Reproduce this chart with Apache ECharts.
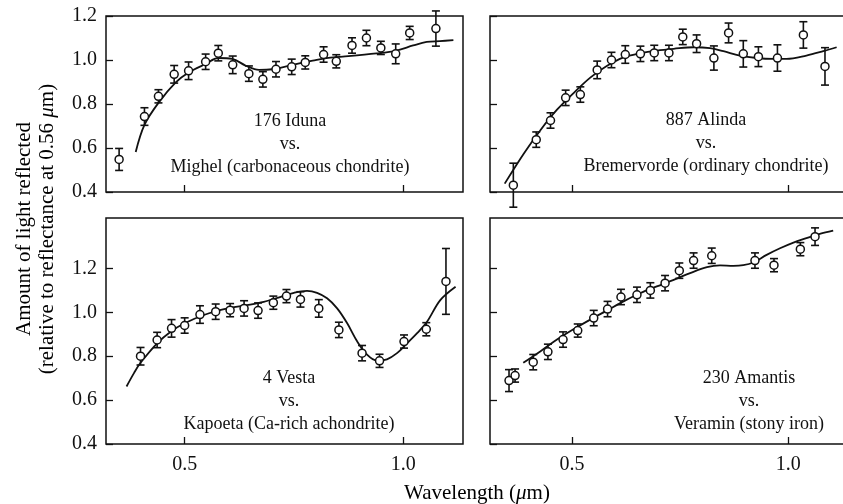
<!DOCTYPE html>
<html>
<head>
<meta charset="utf-8">
<script src="https://cdn.jsdelivr.net/npm/echarts@6/dist/echarts.min.js"></script>
<style>
html,body{margin:0;padding:0;background:#fff;}
#main{width:843px;height:504px;}
</style>
</head>
<body>
<div id="main"></div>
<script>
//测量点 [波长, 反射率, 误差]
var idunaPts=[[0.350,0.548,0.05],[0.408,0.743,0.04],[0.440,0.835,0.03],[0.476,0.935,0.04],[0.509,0.951,0.04],[0.548,0.992,0.035],[0.577,1.031,0.035],[0.610,0.978,0.04],[0.647,0.938,0.035],[0.679,0.912,0.035],[0.709,0.958,0.035],[0.745,0.969,0.035],[0.776,0.989,0.03],[0.818,1.025,0.035],[0.847,0.994,0.03],[0.883,1.066,0.035],[0.916,1.100,0.035],[0.949,1.055,0.03],[0.983,1.028,0.045],[1.015,1.123,0.03],[1.075,1.143,0.08]];
//陨石曲线 [波长, 反射率]
var idunaFit=[[0.388,0.582],[0.408,0.705],[0.44,0.805],[0.479,0.897],[0.509,0.943],[0.548,0.982],[0.577,1.009],[0.609,1.005],[0.64,0.974],[0.67,0.955],[0.70,0.958],[0.747,0.978],[0.793,0.997],[0.824,1.009],[0.862,1.015],[0.939,1.03],[0.985,1.043],[1.023,1.066],[1.054,1.082],[1.084,1.086],[1.115,1.09]];

var alindaPts=[[0.364,0.431,0.1],[0.417,0.638,0.035],[0.450,0.725,0.035],[0.485,0.828,0.035],[0.519,0.843,0.035],[0.558,0.955,0.04],[0.591,1.0,0.035],[0.623,1.025,0.04],[0.658,1.028,0.035],[0.690,1.032,0.035],[0.724,1.032,0.035],[0.756,1.105,0.035],[0.788,1.074,0.04],[0.828,1.009,0.055],[0.862,1.123,0.045],[0.896,1.028,0.06],[0.931,1.015,0.045],[0.975,1.009,0.06],[1.035,1.114,0.06],[1.085,0.971,0.085]];
var alindaFit=[[0.344,0.438],[0.388,0.574],[0.427,0.682],[0.465,0.774],[0.504,0.851],[0.542,0.92],[0.581,0.974],[0.619,1.012],[0.658,1.031],[0.696,1.043],[0.735,1.051],[0.781,1.058],[0.819,1.054],[0.85,1.04],[0.888,1.02],[0.927,1.009],[0.965,1.005],[0.996,1.005],[1.042,1.02],[1.081,1.04],[1.112,1.058]];

var vestaPts=[[0.399,0.80,0.04],[0.437,0.874,0.035],[0.470,0.927,0.04],[0.500,0.94,0.035],[0.535,0.99,0.04],[0.571,1.003,0.035],[0.604,1.01,0.03],[0.636,1.018,0.035],[0.668,1.008,0.035],[0.703,1.044,0.03],[0.733,1.074,0.03],[0.765,1.059,0.035],[0.807,1.018,0.04],[0.853,0.92,0.035],[0.906,0.814,0.035],[0.946,0.779,0.03],[1.002,0.867,0.03],[1.053,0.923,0.03],[1.098,1.141,0.15]];
var vestaFit=[[0.367,0.662],[0.384,0.723],[0.399,0.77],[0.437,0.859],[0.468,0.912],[0.5,0.95],[0.544,0.988],[0.598,1.018],[0.643,1.033],[0.681,1.048],[0.72,1.071],[0.75,1.089],[0.78,1.098],[0.803,1.089],[0.826,1.064],[0.849,1.018],[0.872,0.95],[0.895,0.867],[0.918,0.806],[0.94,0.78],[0.963,0.786],[0.986,0.814],[1.009,0.859],[1.032,0.905],[1.055,0.958],[1.085,1.056],[1.12,1.117]];

var amantisPts=[[0.354,0.689,0.05],[0.368,0.712,0.03],[0.410,0.773,0.035],[0.444,0.82,0.035],[0.479,0.876,0.035],[0.513,0.917,0.03],[0.550,0.974,0.035],[0.582,1.015,0.035],[0.613,1.07,0.035],[0.650,1.08,0.035],[0.681,1.10,0.035],[0.715,1.133,0.035],[0.748,1.19,0.035],[0.781,1.236,0.035],[0.823,1.258,0.035],[0.923,1.236,0.035],[0.967,1.215,0.03],[1.028,1.288,0.03],[1.062,1.345,0.04]];
var amantisFit=[[0.387,0.77],[0.427,0.823],[0.465,0.876],[0.504,0.924],[0.542,0.967],[0.581,1.009],[0.619,1.05],[0.658,1.088],[0.696,1.118],[0.735,1.148],[0.773,1.179],[0.812,1.206],[0.842,1.214],[0.873,1.212],[0.896,1.215],[0.919,1.227],[0.95,1.262],[0.981,1.292],[1.012,1.318],[1.042,1.338],[1.073,1.358],[1.104,1.373]];

var xTicks=[0.5,1.0];
var yTicks=[0.4,0.6,0.8,1.0,1.2];
var panelText=[
	'176 Iduna\nvs.\nMighel (carbonaceous chondrite)',
	'887 Alinda\nvs.\nBremervorde (ordinary chondrite)',
	'4 Vesta\nvs.\nKapoeta (Ca-rich achondrite)',
	'230 Amantis\nvs.\nVeramin (stony iron)'
];

var fontFam="'Liberation Serif','Times New Roman',serif";
var ink='#111';

var dom=document.getElementById('main');
var myChart=echarts.init(dom);

//坐标网格 (右侧面板的右边框在画布之外)
var grids=[
	{left:106,top:16,width:357,height:176},
	{left:490,top:16,width:354,height:176},
	{left:106,top:218,width:357,height:226},
	{left:490,top:218,width:354,height:226}
];
for(var i=0;i<grids.length;i++){
	grids[i].show=true;
	grids[i].borderColor=ink;
	grids[i].borderWidth=1.5;
	grids[i].outerBoundsMode='none';
	grids[i].containLabel=false;
}

var _xAxis=function(gi,left,bottom){
	return {
		type:'value',gridIndex:gi,
		min:left?0.32:0.31,max:left?1.137:1.129,
		axisLine:{show:false},
		splitLine:{show:false},
		axisTick:{show:true,inside:true,length:7,customValues:xTicks,lineStyle:{color:ink,width:1.3}},
		axisLabel:{show:bottom,customValues:xTicks,margin:11,color:ink,fontFamily:fontFam,fontSize:20,
			formatter:function(v){return v.toFixed(1);}}
	};
}
var _yAxis=function(gi,left,top){
	return {
		type:'value',gridIndex:gi,
		min:0.4,max:top?1.2:1.43,
		axisLine:{show:false},
		splitLine:{show:false},
		axisTick:{show:true,inside:true,length:7,customValues:yTicks,lineStyle:{color:ink,width:1.3}},
		axisLabel:{show:left,customValues:yTicks,margin:9,color:ink,fontFamily:fontFam,fontSize:20,
			formatter:function(v){return v.toFixed(1);}}
	};
}

//误差线
var _errorBars=function(gi,pts){
	return {
		type:'custom',xAxisIndex:gi,yAxisIndex:gi,clip:false,z:2,
		data:pts,
		renderItem:function(params,api){
			var x=api.value(0),y=api.value(1),e=api.value(2);
			var hi=api.coord([x,y+e]);
			var lo=api.coord([x,y-e]);
			var w=4;
			var st={stroke:ink,lineWidth:1.6};
			return {type:'group',children:[
				{type:'line',shape:{x1:hi[0],y1:hi[1],x2:lo[0],y2:lo[1]},style:st},
				{type:'line',shape:{x1:hi[0]-w,y1:hi[1],x2:hi[0]+w,y2:hi[1]},style:st},
				{type:'line',shape:{x1:lo[0]-w,y1:lo[1],x2:lo[0]+w,y2:lo[1]},style:st}
			]};
		}
	};
}
var _fit=function(gi,fit){
	return {type:'line',xAxisIndex:gi,yAxisIndex:gi,data:fit,smooth:0.35,showSymbol:false,z:3,
		lineStyle:{color:ink,width:1.8}};
}
var _points=function(gi,pts){
	var d=[];
	for(var i=0;i<pts.length;i++){d.push([pts[i][0],pts[i][1]]);}
	return {type:'scatter',xAxisIndex:gi,yAxisIndex:gi,data:d,symbol:'circle',symbolSize:8,z:4,
		itemStyle:{color:'#fff',borderColor:ink,borderWidth:1.5,opacity:1}};
}

var series=[];
var allPts=[idunaPts,alindaPts,vestaPts,amantisPts];
var allFit=[idunaFit,alindaFit,vestaFit,amantisFit];
for(var g=0;g<4;g++){
	series.push(_errorBars(g,allPts[g]));
	series.push(_fit(g,allFit[g]));
	series.push(_points(g,allPts[g]));
}

//面板文字位置
var textPos=[[290,144],[706,143],[289,401],[749,401]];
var graphic=[];
for(var k=0;k<4;k++){
	graphic.push({type:'text',x:textPos[k][0],y:textPos[k][1],z:10,
		style:{text:panelText[k],textAlign:'center',textVerticalAlign:'middle',
			fontFamily:fontFam,fontSize:18,lineHeight:23,fill:ink}});
}
graphic.push({type:'text',x:477,y:493,
	style:{text:'{a|Wavelength (}{b|μ}{a|m)}',textAlign:'center',textVerticalAlign:'middle',
		rich:{a:{fontFamily:fontFam,fontSize:21,color:ink},b:{fontFamily:fontFam,fontSize:21,fontStyle:'italic',color:ink}}}});
graphic.push({type:'text',x:36,y:229,rotation:Math.PI/2,
	style:{text:'{a|Amount of light reflected}\n{a|(relative to reflectance at 0.56 }{b|μ}{a|m)}',textAlign:'center',textVerticalAlign:'middle',
		rich:{a:{fontFamily:fontFam,fontSize:21,lineHeight:23,color:ink},b:{fontFamily:fontFam,fontSize:21,lineHeight:23,fontStyle:'italic',color:ink}}}});

option={
	animation:false,
	backgroundColor:'#fff',
	grid:grids,
	xAxis:[_xAxis(0,true,false),_xAxis(1,false,false),_xAxis(2,true,true),_xAxis(3,false,true)],
	yAxis:[_yAxis(0,true,true),_yAxis(1,false,true),_yAxis(2,true,false),_yAxis(3,false,false)],
	series:series,
	graphic:graphic
};
if(option && typeof option==="object"){
	myChart.setOption(option,true);
}
</script>
</body>
</html>
